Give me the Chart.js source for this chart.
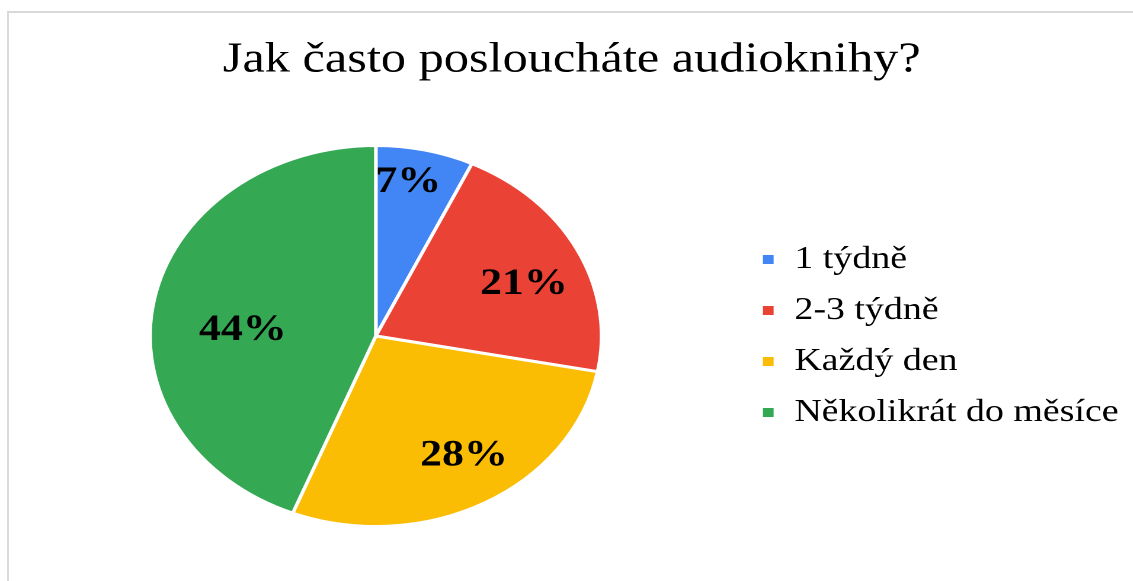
<!DOCTYPE html>
<html>
<head>
<meta charset="utf-8">
<script src="https://cdn.jsdelivr.net/npm/chart.js@4"></script>
<style>
  html, body { margin: 0; padding: 0; background: #fff; overflow: hidden; }
  #frame {
    position: absolute; left: 7px; top: 11px; width: 1140px; height: 600px;
    border: 2px solid #d9d9d9; box-sizing: border-box;
  }
  #stretch {
    position: absolute; left: 0; top: 0; width: 966px; height: 581px;
    transform: scaleX(1.185); transform-origin: 0 0;
  }
</style>
</head>
<body>
<div id="frame"></div>
<div id="stretch"><canvas id="pie"></canvas></div>
<script>
const chartTitle = "Jak často posloucháte audioknihy?";
const categories = ["1 týdně", "2-3 týdně", "Každý den", "Několikrát do měsíce"];
const shares = [7, 21, 28, 44];
const sliceColors = ["#4285F4", "#EA4335", "#FBBC04", "#34A853"];

// where each percentage sits inside its slice: [fraction of the arc, fraction of the radius]
const labelSpots = [[0.40, 0.82], [0.56, 0.71], [0.47, 0.74], [0.45, 0.59]];

const sliceLabels = {
  id: "sliceLabels",
  afterDatasetsDraw(chart) {
    const ctx = chart.ctx;
    const arcs = chart.getDatasetMeta(0).data;
    ctx.save();
    ctx.font = "bold 37px 'Liberation Serif'";
    ctx.fillStyle = "#000";
    ctx.textAlign = "center";
    ctx.textBaseline = "middle";
    arcs.forEach(function (arc, i) {
      const p = arc.getProps(["x", "y", "startAngle", "endAngle", "outerRadius"], true);
      const spot = labelSpots[i];
      const a = p.startAngle + (p.endAngle - p.startAngle) * spot[0];
      const r = p.outerRadius * spot[1];
      ctx.fillText(shares[i] + "%", p.x + Math.cos(a) * r, p.y + Math.sin(a) * r);
    });
    ctx.restore();
  }
};

const ctx = document.getElementById("pie").getContext("2d");
new Chart(ctx, {
  type: "pie",
  data: {
    labels: categories,
    datasets: [
      {
        data: shares,
        backgroundColor: sliceColors,
        borderColor: "#ffffff",
        borderWidth: 3,
      },
    ],
  },
  options: {
    responsive: true,
    maintainAspectRatio: false,
    animation: false,
    devicePixelRatio: 2,
    layout: { padding: { left: 11, right: 12, top: 0, bottom: 53 } },
    plugins: {
      title: {
        display: true,
        text: chartTitle,
        color: "#000",
        font: { family: "'Liberation Serif'", size: 42.5, weight: "normal", lineHeight: 1.2 },
        padding: { top: 35, bottom: 58 },
      },
      legend: {
        position: "right",
        align: "center",
        fullSize: false,
        labels: {
          color: "#000",
          boxWidth: 12,
          boxHeight: 12,
          padding: 19,
          font: { family: "'Liberation Serif'", size: 32 },
        },
      },
      tooltip: { enabled: false },
    },
  },
  plugins: [sliceLabels],
});
</script>
</body>
</html>
